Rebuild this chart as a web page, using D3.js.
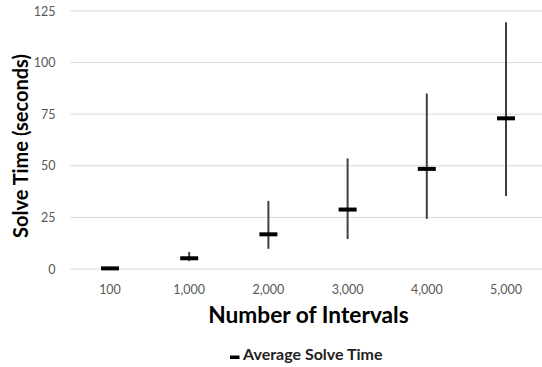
<!DOCTYPE html>
<html lang="en">
<head>
  <meta charset="UTF-8">
  <title>Average Solve Time</title>
  <script src="https://d3js.org/d3.v7.min.js"></script>
  <style>
    body { margin: 0; background: #fff; font-family: Lato, "Open Sans", sans-serif; }
  </style>
</head>
<body>
  <svg id="chart" width="542" height="367"></svg>
  <script>
    // Data
    const intervals = ['100', '1,000', '2,000', '3,000', '4,000', '5,000'];
    const avgTime = [0.3, 5.2, 16.8, 28.8, 48.5, 73];
    const minTime = [0, 3.8, 9.8, 14.5, 24.3, 35.4];
    const maxTime = [0.3, 8.3, 33, 53.6, 85, 119.6];
    const yTicks = [0, 25, 50, 75, 100, 125];

    const svg = d3.select('#chart');
    const plotLeft = 70.4, plotRight = 545.6, plotTop = 11, plotBottom = 269;

    const x = d3.scaleBand().domain(intervals).range([plotLeft, plotRight]);
    const y = d3.scaleLinear().domain([0, 125]).range([plotBottom, plotTop]);

    // gridlines
    svg.append('g').selectAll('line')
      .data(yTicks)
      .enter().append('line')
      .attr('x1', plotLeft).attr('x2', 542)
      .attr('y1', d => y(d)).attr('y2', d => y(d))
      .attr('stroke', '#d9d9d9').attr('stroke-width', 1);

    // y axis labels
    const yAxis = d3.axisLeft(y).tickValues(yTicks).tickSize(0).tickPadding(15);
    const yg = svg.append('g').attr('transform', `translate(${plotLeft},0)`).call(yAxis);
    yg.select('.domain').remove();
    yg.selectAll('text').attr('fill', '#595959').style('font-size', '12.5px')
      .style('font-family', 'Lato, sans-serif');

    // x axis labels
    const xAxis = d3.axisBottom(x).tickSize(0).tickPadding(16);
    const xg = svg.append('g').attr('transform', `translate(0,${plotBottom})`).call(xAxis);
    xg.select('.domain').remove();
    xg.selectAll('text').attr('fill', '#595959').style('font-size', '12.5px')
      .style('font-family', 'Lato, sans-serif');

    const cx = d => x(d) + x.bandwidth() / 2;

    // error bars (min to max)
    svg.append('g').selectAll('line')
      .data(intervals)
      .enter().append('line')
      .attr('x1', cx).attr('x2', cx)
      .attr('y1', (d, i) => y(minTime[i]))
      .attr('y2', (d, i) => y(maxTime[i]))
      .attr('stroke', '#404040').attr('stroke-width', 2);

    // average marks
    svg.append('g').selectAll('rect')
      .data(intervals)
      .enter().append('rect')
      .attr('x', d => cx(d) - 9)
      .attr('y', (d, i) => y(avgTime[i]) - 2)
      .attr('width', 18).attr('height', 4)
      .attr('fill', '#000');

    // axis titles
    svg.append('text')
      .attr('transform', 'translate(28,146) rotate(-90)')
      .attr('text-anchor', 'middle')
      .style('font-size', '20px').style('font-weight', 'bold')
      .text('Solve Time (seconds)');

    svg.append('text')
      .attr('x', 308.5).attr('y', 323)
      .attr('text-anchor', 'middle')
      .style('font-size', '22.7px').style('font-weight', 'bold')
      .text('Number of Intervals');

    // legend
    const lg = svg.append('g').attr('transform', 'translate(230,360)');
    lg.append('rect').attr('x', 0).attr('y', -4.5).attr('width', 9.5).attr('height', 3.5).attr('fill', '#000');
    lg.append('text').attr('x', 13).attr('y', 0)
      .style('font-size', '16px').style('font-weight', 'bold').attr('fill', '#222')
      .text('Average Solve Time');
  </script>
</body>
</html>
